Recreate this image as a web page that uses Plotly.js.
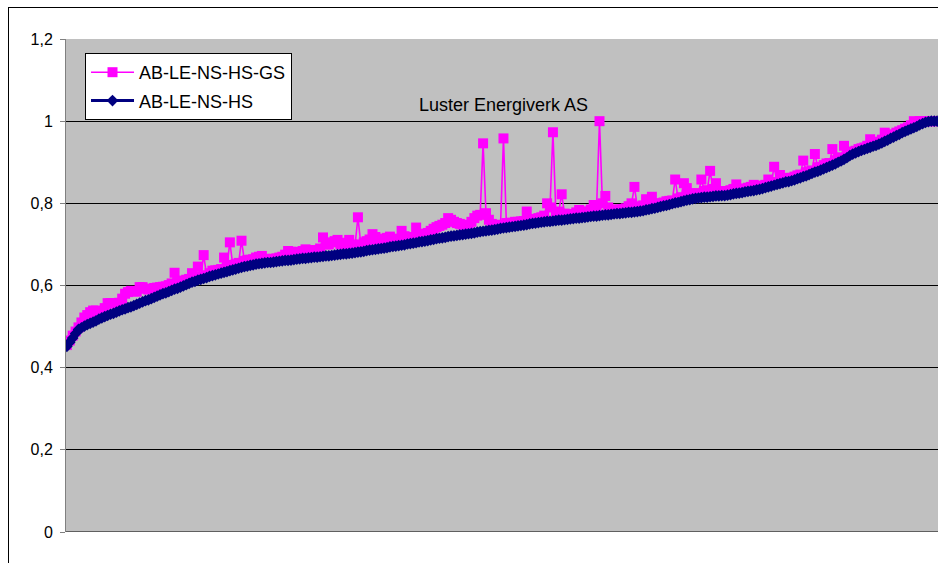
<!DOCTYPE html>
<html>
<head>
<meta charset="utf-8">
<script src="https://cdn.plot.ly/plotly-3.0.1.min.js"></script>
<style>
  html, body { margin: 0; padding: 0; background: #fff; }
  #frame { position: absolute; left: 8px; top: 7px; width: 960px; height: 600px; border: 1px solid #000; box-sizing: border-box; }
  #chart { position: absolute; left: 0; top: 0; width: 938px; height: 563px; }
</style>
</head>
<body>
<div id="frame"></div>
<div id="chart"></div>
<script>
// Companies sorted by the AB-LE-NS-HS score
const seriesNames = ["AB-LE-NS-HS-GS", "AB-LE-NS-HS"];
const ablenshs = [
  .452,.462,.472,.483,.493,.497,.501,.505,.508,.511,
  .514,.518,.521,.524,.527,.530,.532,.535,.538,.541,
  .543,.546,.548,.551,.554,.557,.560,.563,.565,.568,
  .571,.574,.577,.580,.582,.585,.588,.591,.593,.596,
  .599,.602,.605,.608,.610,.613,.615,.617,.619,.622,
  .624,.626,.628,.630,.632,.634,.636,.638,.640,.642,
  .644,.646,.647,.649,.650,.652,.653,.654,.655,.656,
  .656,.657,.658,.659,.660,.661,.661,.662,.663,.664,
  .665,.666,.666,.667,.668,.669,.669,.670,.671,.672,
  .672,.673,.674,.675,.676,.677,.677,.678,.679,.680,
  .681,.682,.683,.685,.686,.687,.688,.689,.690,.691,
  .692,.694,.695,.696,.697,.698,.699,.701,.702,.703,
  .704,.706,.707,.708,.709,.711,.712,.714,.715,.716,
  .717,.719,.720,.721,.722,.723,.724,.725,.726,.727,
  .728,.730,.731,.732,.733,.734,.735,.736,.737,.739,
  .740,.741,.742,.743,.744,.745,.746,.747,.748,.750,
  .751,.752,.753,.754,.755,.756,.756,.757,.758,.759,
  .759,.760,.761,.762,.763,.764,.764,.765,.766,.767,
  .768,.769,.769,.770,.771,.772,.772,.773,.774,.775,
  .775,.776,.777,.778,.778,.779,.780,.781,.782,.784,
  .785,.787,.788,.790,.792,.794,.795,.797,.799,.801,
  .802,.804,.806,.808,.809,.811,.812,.813,.814,.815,
  .815,.816,.817,.818,.818,.819,.819,.820,.821,.823,
  .824,.825,.826,.828,.829,.830,.831,.833,.834,.836,
  .838,.840,.842,.844,.846,.848,.850,.852,.853,.855,
  .857,.860,.862,.865,.867,.870,.873,.876,.878,.881,
  .884,.887,.890,.893,.896,.900,.903,.907,.911,.916,
  .920,.923,.926,.929,.931,.934,.936,.939,.941,.944,
  .947,.951,.954,.958,.961,.965,.968,.972,.975,.978,
  .981,.984,.987,.991,.994,.997,.999,1.000,1.000,1.000
];
const ablenshsgs = [
  .455,.466,.478,.488,.498,.510,.522,.528,.535,.539,
  .539,.538,.537,.545,.557,.557,.556,.557,.558,.568,
  .580,.584,.587,.586,.585,.596,.596,.592,.590,.592,
  .594,.595,.596,.597,.598,.601,.605,.631,.610,.611,
  .612,.614,.616,.630,.620,.646,.622,.674,.625,.630,
  .636,.637,.638,.640,.668,.648,.705,.650,.652,.655,
  .709,.660,.662,.663,.664,.668,.670,.672,.665,.664,
  .664,.665,.666,.668,.670,.675,.684,.682,.682,.680,
  .680,.684,.688,.686,.685,.686,.686,.690,.717,.700,
  .700,.705,.708,.711,.700,.700,.704,.711,.700,.698,
  .766,.700,.705,.708,.712,.725,.718,.710,.710,.714,
  .716,.719,.714,.712,.712,.733,.720,.715,.716,.718,
  .741,.726,.722,.725,.728,.733,.738,.742,.745,.748,
  .752,.764,.760,.755,.752,.750,.748,.745,.745,.755,
  .764,.770,.772,.946,.776,.760,.750,.745,.745,.748,
  .958,.752,.752,.753,.755,.755,.756,.757,.780,.760,
  .762,.762,.764,.766,.770,.800,.790,.973,.778,.780,
  .822,.775,.772,.773,.774,.778,.784,.780,.778,.780,
  .785,.796,.790,1.000,.800,.818,.790,.782,.784,.785,
  .785,.786,.788,.793,.800,.840,.792,.792,.795,.810,
  .800,.816,.800,.798,.800,.802,.805,.806,.807,.858,
  .812,.815,.849,.837,.825,.820,.822,.825,.858,.830,
  .832,.879,.835,.849,.828,.828,.830,.830,.832,.835,
  .846,.835,.835,.836,.838,.840,.845,.842,.840,.843,
  .845,.858,.850,.889,.852,.869,.858,.858,.862,.862,
  .865,.868,.870,.904,.876,.878,.880,.920,.888,.888,
  .893,.897,.898,.932,.905,.908,.912,.940,.920,.922,
  .926,.928,.932,.934,.936,.940,.956,.946,.947,.950,
  .955,.972,.962,.965,.968,.972,.975,.978,.982,.985,
  .990,1.000,.995,1.000,1.000,1.000,1.000,1.000,1.000,1.000
];
const yTicks = [0, 0.2, 0.4, 0.6, 0.8, 1.0, 1.2];
const annotationText = "Luster Energiverk AS";

const idx = ablenshs.map((_, i) => i);

const traces = [
  {
    x: idx, y: ablenshsgs, name: seriesNames[0], type: "scatter", mode: "lines+markers",
    line: { color: "#FF00FF", width: 1.6 },
    marker: { symbol: "square", size: 10, color: "#FF00FF" },
    legendgroup: "a"
  },
  {
    x: idx, y: ablenshs, name: seriesNames[1], type: "scatter", mode: "lines+markers",
    line: { color: "#000080", width: 3 },
    marker: { symbol: "diamond", size: 9, color: "#000080" },
    legendgroup: "b"
  }
];

const layout = {
  width: 938, height: 563,
  margin: { l: 66, r: 0, t: 39, b: 31 },
  paper_bgcolor: "rgba(0,0,0,0)",
  plot_bgcolor: "#C0C0C0",
  separators: ",.",
  font: { family: "Liberation Sans, Arial, sans-serif", size: 16, color: "#000" },
  showlegend: true,
  legend: {
    x: 0.0218, y: 0.9716, xanchor: "left", yanchor: "top",
    bgcolor: "#FFFFFF", bordercolor: "#000000", borderwidth: 1,
    font: { size: 18, color: "#000" },
    itemwidth: 43,
    traceorder: "grouped", tracegroupgap: 2
  },
  xaxis: {
    range: [-0.3, 299.3], showgrid: false, zeroline: false,
    showticklabels: false, ticks: "", showline: false, fixedrange: true
  },
  yaxis: {
    range: [0, 1.2], tickvals: yTicks, showgrid: true, gridcolor: "#000000", gridwidth: 1,
    zeroline: false, showline: true, linecolor: "#808080", linewidth: 1,
    ticks: "outside", ticklen: 5, tickcolor: "#808080", ticklabelstandoff: 4,
    tickfont: { size: 16, color: "#000" }
  },
  shapes: [
    { type: "line", xref: "paper", yref: "y", x0: 0, x1: 1, y0: 0, y1: 0, line: { color: "#000", width: 1 } }
  ],
  annotations: [
    { text: annotationText, xref: "paper", yref: "paper", x: 0.502, y: 0.866,
      xanchor: "center", yanchor: "middle", showarrow: false, font: { size: 18, color: "#000" } }
  ]
};

Plotly.newPlot("chart", traces, layout, { displayModeBar: false, staticPlot: true });
</script>
</body>
</html>
